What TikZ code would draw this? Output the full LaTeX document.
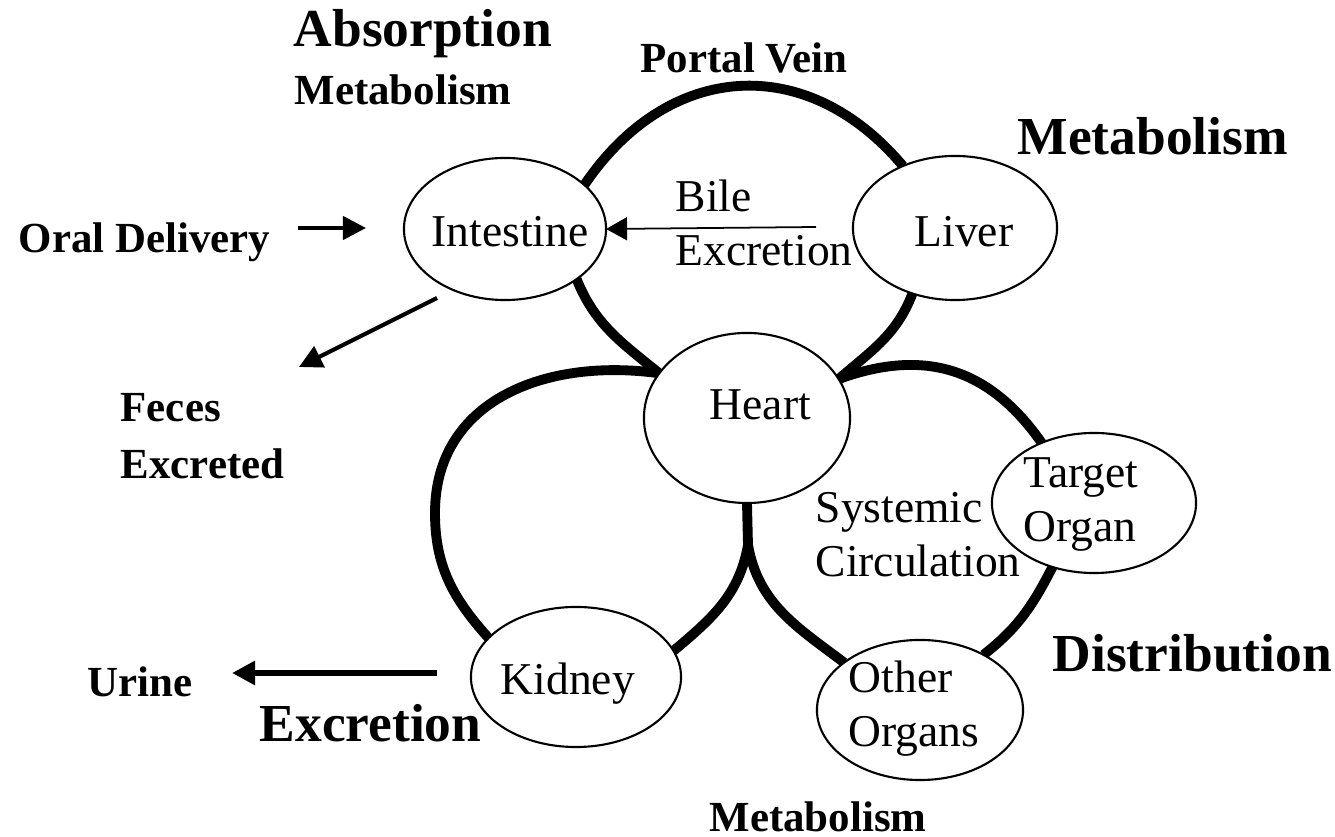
\documentclass[tikz,border=0pt]{standalone}
\usepackage{fontspec}
\setmainfont{Liberation Serif}
\usetikzlibrary{arrows.meta,shapes.geometric,backgrounds}

\begin{document}
\begin{tikzpicture}[x=0.01cm,y=0.01cm,
  organ/.style={ellipse, draw, line width=0.6pt, fill=white, inner sep=0pt, outer sep=0pt},
  vessel/.style={line width=2.8pt},
  flowarrow/.style={-{Triangle[length=2.3mm,width=2.3mm]}, line width=1.2pt},
  bigword/.style={font={\bfseries\fontsize{15.2}{18}\selectfont}, inner sep=0pt, anchor=base west},
  smallword/.style={font={\bfseries\fontsize{12.2}{16}\selectfont}, inner sep=0pt, anchor=base west},
  organtext/.style={font={\fontsize{12.95}{15.1}\selectfont}, inner sep=0pt, anchor=base west},
]
\useasboundingbox (0,0) rectangle (1335,-837);

% organs
\node[organ, minimum width=2.02cm, minimum height=1.42cm] (intestine) at (505,-229) {};
\node[organ, minimum width=2.04cm, minimum height=1.44cm] (liver)     at (955,-228) {};
\node[organ, minimum width=2.06cm, minimum height=1.70cm] (heart)     at (747,-418) {};
\node[organ, minimum width=2.04cm, minimum height=1.40cm] (target)    at (1094,-503) {};
\node[organ, minimum width=2.06cm, minimum height=1.40cm] (other)     at (920,-710) {};
\node[organ, minimum width=2.10cm, minimum height=1.40cm] (kidney)    at (576,-677) {};

\coordinate (ll-west) at (435,-513);
\coordinate (split) at (748,-545);

% circulation loops
\begin{scope}[on background layer]
  \draw[vessel] (intestine.29) to[out=56,in=130,looseness=1.2] (liver.130);
  \draw[vessel] (intestine.-35) to[out=-68,in=141] (heart.153);
  \draw[vessel] (liver.-123) to[out=-111,in=41] (heart.23);
  \draw[vessel] (heart.153) to[out=172,in=90,looseness=1.1] (ll-west)
                to[out=-90,in=132] (kidney.156);
  \draw[vessel] (heart.23) to[out=20,in=125,looseness=1.1] (target.131);
  \draw[vessel] (target.-123) to[out=-117,in=38] (other.41);
  \draw[vessel] (heart.south) -- (split);
  \draw[vessel] (split) to[out=-100,in=40] (kidney.15);
  \draw[vessel] (split) to[out=-80,in=143] (other.148);
\end{scope}

% organ names
\node[organtext] (intestine-text) at (431,-247) {Intestine};
\node[organtext] (liver-text) at (914,-247) {Liver};
\node[organtext] (heart-text) at (709,-420) {Heart};
\node[organtext] (kidney-text) at (500,-695) {Kidney};
\node[organtext] (target-text) at (1023,-488) {\begin{tabular}[t]{@{}l@{}}Target\\Organ\end{tabular}};
\node[organtext] (other-text) at (848,-693) {\begin{tabular}[t]{@{}l@{}}Other\\Organs\end{tabular}};
\node[organtext] (bile-text) at (675,-212) {\begin{tabular}[t]{@{}l@{}}Bile\\Excretion\end{tabular}};
\node[organtext] (systemic-text) at (815,-523) {\begin{tabular}[t]{@{}l@{}}Systemic\\Circulation\end{tabular}};

% process labels
\node[bigword] (absorption) at (293,-47) {Absorption};
\node[smallword] (abs-metab) at (294,-105) {Metabolism};
\node[smallword] (portal) at (640,-73) {Portal Vein};
\node[bigword] (liver-metab) at (1017,-155) {Metabolism};
\node[smallword] (oral) at (18,-253) {Oral Delivery};
\node[smallword] (feces) at (120,-422) {\begin{tabular}[t]{@{}l@{}}Feces\\Excreted\end{tabular}};
\node[smallword] (urine) at (87,-697) {Urine};
\node[bigword] (excretion) at (259,-742) {Excretion};
\node[bigword] (distribution) at (1052,-672) {Distribution};
\node[smallword] (other-metab) at (709,-832) {Metabolism};

% inputs and outputs
\coordinate (oral-tail) at (298,-228);
\coordinate (oral-tip) at (366,-228);
\coordinate (feces-tail) at (437,-298);
\coordinate (feces-tip) at (299,-367);
\coordinate (urine-tail) at (437,-673);
\coordinate (urine-tip) at (232,-673);
\coordinate (bile-tail) at (816,-227);

\draw[flowarrow] (oral-tail) -- (oral-tip);
\draw[flowarrow] (feces-tail) -- (feces-tip);
\draw[flowarrow, line width=1.7pt] (urine-tail) -- (urine-tip);
\draw[-{Triangle[length=2.1mm,width=2.3mm]}, line width=0.5pt] (bile-tail) -- (intestine.east);
\end{tikzpicture}
\end{document}
